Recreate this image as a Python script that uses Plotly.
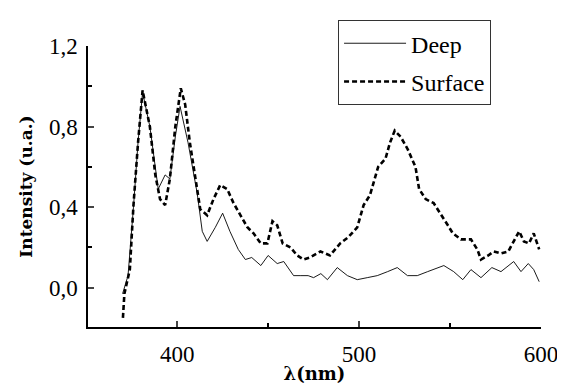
import plotly.graph_objects as go

surf_x = [370.2, 371, 374, 376, 378.5, 381, 385, 388, 390.6, 393.4, 396, 399, 402, 404.4, 407, 410, 412.7,
          416.5, 420, 423.7, 427.5, 431, 434.7, 438.6, 442, 446, 449.6, 452.4, 455, 458, 462.3, 466, 469.4,
          473, 478.8, 484, 489.6, 494, 499, 502.5, 506, 510.5, 514.5, 517, 519.6, 522.8, 526.6, 531, 533,
          536.6, 541, 545, 548.8, 551.5, 556, 561.5, 565, 567, 571, 574, 578, 582, 585, 588, 590.6, 593.4,
          596, 599]
surf_y = [-0.15, -0.03, 0.09, 0.41, 0.72, 0.98, 0.80, 0.56, 0.44, 0.41, 0.54, 0.80, 0.99, 0.91, 0.72, 0.54, 0.39,
          0.36, 0.44, 0.51, 0.49, 0.42, 0.36, 0.30, 0.27, 0.22, 0.22, 0.33, 0.31, 0.22, 0.20, 0.16, 0.14,
          0.15, 0.18, 0.16, 0.22, 0.25, 0.30, 0.41, 0.46, 0.60, 0.64, 0.72, 0.78, 0.75, 0.69, 0.60, 0.49,
          0.44, 0.42, 0.36, 0.31, 0.27, 0.24, 0.24, 0.19, 0.14, 0.16, 0.18, 0.17, 0.18, 0.23, 0.28, 0.23, 0.22,
          0.27, 0.19]

deep_x = [370, 373, 376, 378.5, 381, 385, 389.6, 393.4, 396, 399, 401.6, 406, 411, 413.8, 416.5, 421, 425,
          429, 433.6, 437.5, 441, 446, 450, 455, 458.6, 464, 468, 472, 475, 479, 482.6, 488, 493.6, 499,
          504.5, 510, 515.7, 521, 526.6, 532, 537.7, 543, 546.6, 552, 557, 561.5, 567, 573, 578, 585, 589,
          593, 596, 599]
deep_y = [-0.03, 0.06, 0.40, 0.72, 0.97, 0.80, 0.49, 0.56, 0.54, 0.75, 0.90, 0.72, 0.47, 0.28, 0.23, 0.30, 0.37,
          0.28, 0.19, 0.14, 0.15, 0.11, 0.16, 0.12, 0.13, 0.06, 0.06, 0.06, 0.05, 0.07, 0.04, 0.10, 0.06, 0.04,
          0.05, 0.06, 0.08, 0.10, 0.06, 0.06, 0.08, 0.10, 0.11, 0.08, 0.04, 0.09, 0.05, 0.10, 0.08, 0.13, 0.08,
          0.12, 0.09, 0.03]

x_ticks = [400, 500, 600]
y_ticks = [0.0, 0.4, 0.8, 1.2]

font = "'Liberation Serif', 'Times New Roman', Times, serif"
bold_font = "'DejaVu Serif', serif"

fig = go.Figure()
fig.add_trace(go.Scatter(x=deep_x, y=deep_y, mode="lines", name="Deep", legendgroup="a",
                         line=dict(color="black", width=0.9)))
fig.add_trace(go.Scatter(x=surf_x, y=surf_y, mode="lines", name="Surface", legendgroup="b",
                         line=dict(color="black", width=2.6, dash="5px,3px")))

# the page body adds an 8px offset; the figure is sized to fill the rest of the window
fig.update_layout(
    width=557, height=376,
    margin=dict(l=80, r=24, t=25, b=57),
    paper_bgcolor="white", plot_bgcolor="white",
    separators=",.",
    font=dict(family=font, size=22, color="black"),
    showlegend=True,
    legend=dict(x=0.552, y=1.092, xanchor="left", yanchor="top",
                bordercolor="#333333", borderwidth=1, bgcolor="white",
                font=dict(family=font, size=24, color="black"),
                tracegroupgap=4, itemwidth=62),
)
fig.update_xaxes(
    range=[351, 600], tickvals=x_ticks, ticks="inside", ticklen=6, tickwidth=1.5,
    showline=True, linecolor="black", linewidth=1.5, showgrid=False, zeroline=False,
    automargin=False, ticklabelstandoff=6,
    minor=dict(tickvals=[450, 550], ticks="inside", ticklen=4, tickcolor="black"),
    title=dict(text="λ(nm)", standoff=0, font=dict(family=bold_font, size=18, weight="bold")),
    tickfont=dict(family=font, size=23),
)
fig.update_yaxes(
    range=[-0.195, 1.2], tickvals=y_ticks, tickformat=".1f", ticks="inside", ticklen=6, tickwidth=1.5,
    showline=True, linecolor="black", linewidth=1.5, showgrid=False, zeroline=False,
    automargin=False, ticklabelstandoff=4,
    minor=dict(tickvals=[0.2, 0.6, 1.0], ticks="inside", ticklen=4, tickcolor="black"),
    title=dict(text="Intensity (u.a.)", standoff=12, font=dict(family=bold_font, size=17, weight="bold")),
    tickfont=dict(family=font, size=23),
)

fig.write_html("out.html")
